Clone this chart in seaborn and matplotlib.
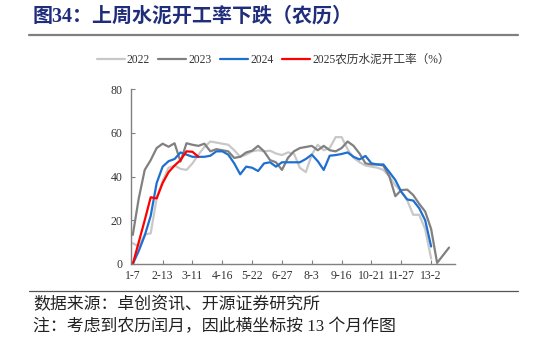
import numpy as np
import pandas as pd
import matplotlib
matplotlib.use("Agg")
import matplotlib.pyplot as plt
from matplotlib.lines import Line2D
import seaborn as sns

# Weekly cement operating rate by lunar-calendar week (%)
rate_2022 = [9.5, 8, 13.5, 14, 30, 38, 44, 45, 43.5, 43, 46, 50, 53.5, 56, 55.5, 55, 54.5,
             52, 49, 50, 51.5, 52, 51.5, 51.8, 50.5, 49.8, 51, 50.5, 44, 42, 50, 54.5, 52,
             53, 58, 58, 52.5, 48.5, 46.5, 45, 44.5, 44, 43, 40, 36, 33, 29, 22.5, 22.5,
             16, 2.5]
rate_2023 = [13.3, 30, 43, 47.5, 53, 55, 53.6, 55.2, 46.8, 55.2, 54.5, 54, 55, 51.5, 52.5,
             52, 51.5, 48.5, 49, 51, 51.8, 54, 51.5, 47.5, 46.5, 43, 48.5, 51.5, 53, 53.5,
             54, 52, 54, 52, 51.5, 53, 56, 54, 50.5, 46, 45.5, 45.5, 45, 40, 31, 33.8, 34,
             31.5, 27.5, 24, 16, 0.5, 4, 7.5]
rate_2024 = [0, 6, 13, 22, 37, 44.5, 47, 48, 51, 50, 49, 49, 49, 49.5, 51.5, 51.5, 50, 46,
             41, 44.5, 44, 42.5, 46, 46.5, 44.5, 46.5, 46.5, 46.5, 46.5, 48, 50, 47, 43,
             49.5, 49.8, 50.3, 51, 49, 47.8, 49.4, 46, 45.5, 45.5, 42, 38.4, 33, 29.5, 29,
             25.5, 20, 8]
rate_2025 = [0, 10, 20, 30.5, 30, 37, 42, 45, 47.5, 51.5, 51.3, 49]

series_names = ["2022", "2023", "2024", "2025农历水泥开工率（%）"]
series_values = [rate_2022, rate_2023, rate_2024, rate_2025]
series_colors = ["#c8c8c8", "#808080", "#1f6fd0", "#ff0000"]

tick_labels = ["1-7", "2-13", "3-11", "4-16", "5-22", "6-27", "8-3", "9-16",
               "10-21", "11-27", "13-2"]
tick_step = 5

frames = []
for name, vals in zip(series_names, series_values):
    frames.append(pd.DataFrame({"week": np.arange(len(vals)), "rate": vals, "year": name}))
df = pd.concat(frames, ignore_index=True)

sns.set_style("ticks")
serif_cjk = ["Liberation Serif", "Noto Sans CJK SC"]
plt.rcParams["font.family"] = serif_cjk

W, H = 546, 342
fig = plt.figure(figsize=(W / 100, H / 100), dpi=100)
ax = fig.add_axes([131 / W, 1 - 264 / H, (455 - 131) / W, (264 - 89) / H])

sns.lineplot(data=df, x="week", y="rate", hue="year", hue_order=series_names,
             palette=dict(zip(series_names, series_colors)), linewidth=1.6,
             ax=ax, legend=False)

ax.set_xlim(-0.3, 54)
ax.set_ylim(0, 80)
ax.set_xticks(np.arange(len(tick_labels)) * tick_step)
ax.set_xticklabels(tick_labels)
ax.set_yticks([0, 20, 40, 60, 80])
ax.set_xlabel("")
ax.set_ylabel("")
for side in ["top", "right"]:
    ax.spines[side].set_visible(False)
for side in ["left", "bottom"]:
    ax.spines[side].set_color("#808080")
    ax.spines[side].set_linewidth(1.0)
ax.tick_params(axis="both", direction="in", length=3, width=0.8, color="#808080",
               labelsize=8.5, labelcolor="#333333")
ax.tick_params(axis="y", pad=6)
ax.tick_params(axis="x", pad=4)

handles = [Line2D([], [], color=c, lw=1.6) for c in series_colors]
fig.legend(handles, series_names, loc="center", bbox_to_anchor=(0.5, 1 - 60 / H),
           ncol=4, frameon=False, fontsize=8.4, handlelength=2.4, handletextpad=0.2,
           columnspacing=0.7, labelcolor="#333333")

fig.text(33 / W, 1 - 17 / H, "图34：上周水泥开工率下跌（农历）", fontsize=14.4,
         fontweight="bold", color="#1f2d7a", va="center", ha="left",
         family=serif_cjk)
fig.add_artist(Line2D([29 / W, 518 / W], [1 - 35 / H] * 2, color="#7f7f7f", lw=1.6))
fig.add_artist(Line2D([29 / W, 518 / W], [1 - 291 / H] * 2, color="#555555", lw=0.9))

fig.text(33 / W, 1 - 305 / H, "数据来源：卓创资讯、开源证券研究所", fontsize=12.2,
         color="#222222", va="center", ha="left", family=serif_cjk)
fig.text(33 / W, 1 - 327 / H, "注：考虑到农历闰月，因此横坐标按 13 个月作图", fontsize=12.2,
         color="#222222", va="center", ha="left", family=serif_cjk)

fig.savefig("out.png", dpi=100)
